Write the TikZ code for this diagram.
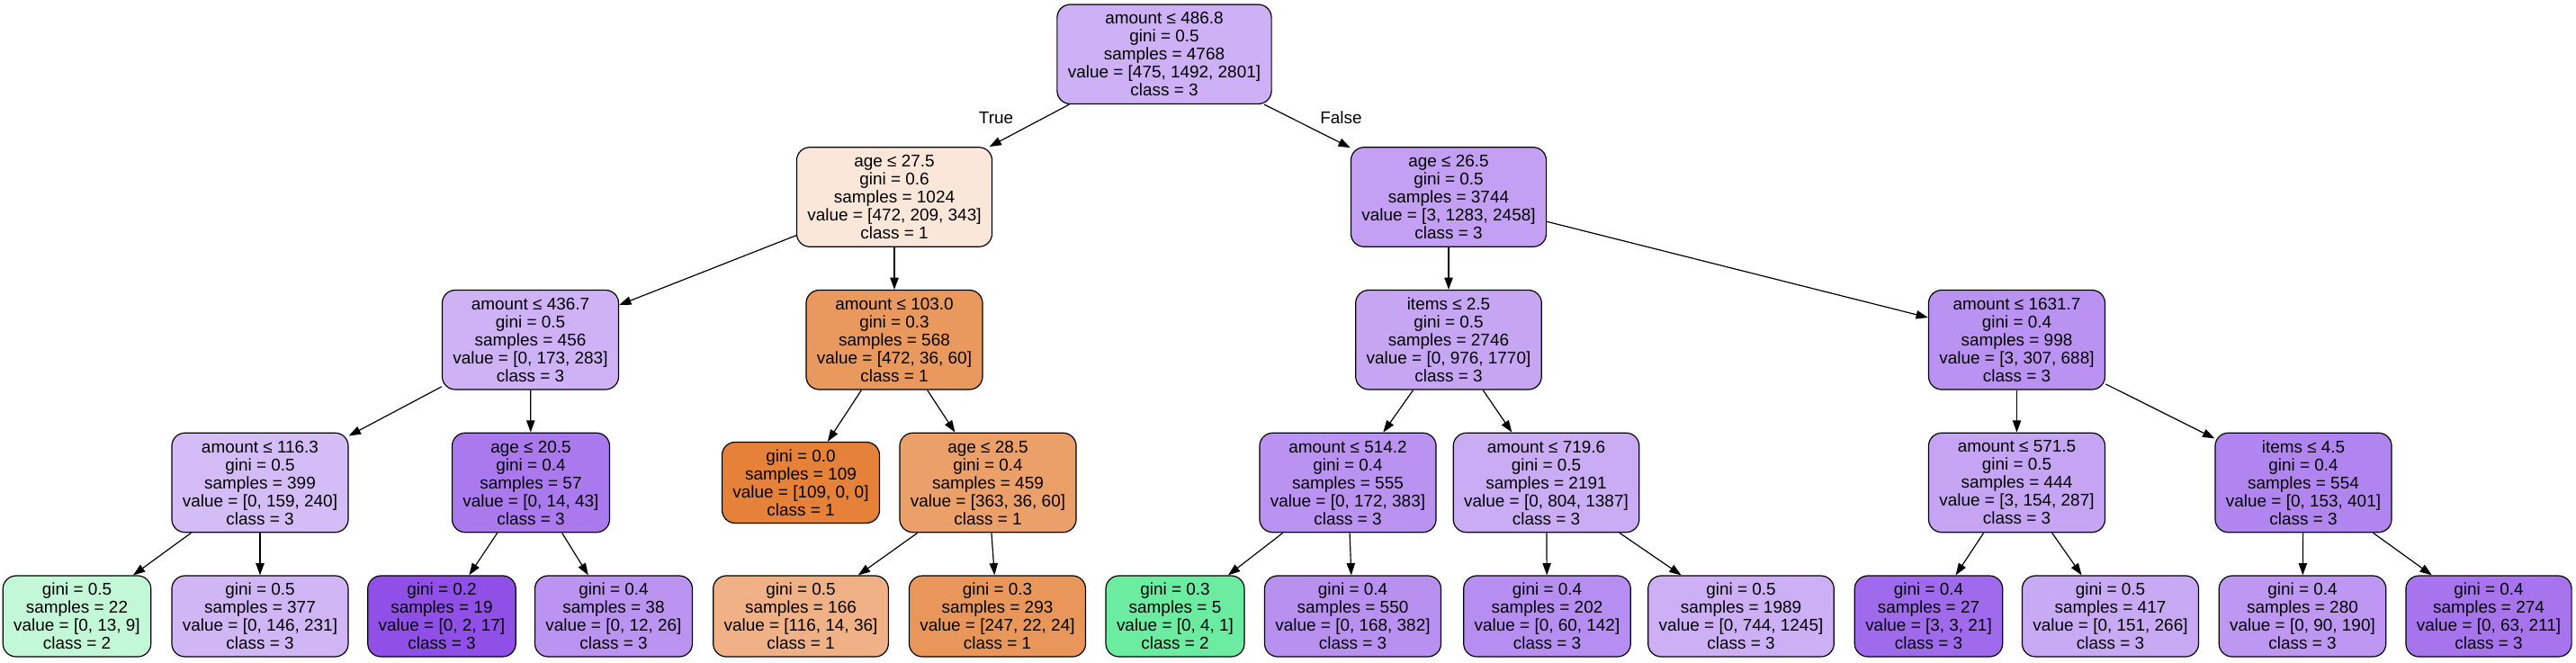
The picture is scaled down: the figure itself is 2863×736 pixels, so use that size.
\documentclass[tikz,border=0pt]{standalone}
\usepackage{fontspec}
\setmainfont{Liberation Sans}
\usetikzlibrary{arrows.meta}
\definecolor{c0}{RGB}{205,176,245}
\definecolor{c1}{RGB}{250,231,218}
\definecolor{c2}{RGB}{206,178,245}
\definecolor{c3}{RGB}{212,188,246}
\definecolor{c4}{RGB}{194,247,216}
\definecolor{c5}{RGB}{209,182,245}
\definecolor{c6}{RGB}{170,121,237}
\definecolor{c7}{RGB}{144,80,232}
\definecolor{c8}{RGB}{187,148,241}
\definecolor{c9}{RGB}{234,153,94}
\definecolor{c10}{RGB}{229,129,57}
\definecolor{c11}{RGB}{235,159,105}
\definecolor{c12}{RGB}{239,177,133}
\definecolor{c13}{RGB}{233,150,91}
\definecolor{c14}{RGB}{195,160,243}
\definecolor{c15}{RGB}{198,166,243}
\definecolor{c16}{RGB}{186,146,241}
\definecolor{c17}{RGB}{107,236,161}
\definecolor{c18}{RGB}{184,144,240}
\definecolor{c19}{RGB}{202,172,244}
\definecolor{c20}{RGB}{182,141,240}
\definecolor{c21}{RGB}{204,175,245}
\definecolor{c22}{RGB}{186,146,241}
\definecolor{c23}{RGB}{197,164,243}
\definecolor{c24}{RGB}{160,106,236}
\definecolor{c25}{RGB}{200,169,244}
\definecolor{c26}{RGB}{177,133,239}
\definecolor{c27}{RGB}{189,151,241}
\definecolor{c28}{RGB}{167,116,237}
\tikzset{
  tnode/.style={draw=black, line width=0.9pt, rounded corners=11pt, align=center,
    font=\fontsize{14.2}{15}\selectfont, inner xsep=9pt, inner ysep=0pt,
    minimum height=82.9pt},
  tleaf/.style={tnode, minimum height=67.5pt},
  edge/.style={draw=black, line width=0.9pt, -{Triangle[length=10pt,width=7pt]}},
  elabel/.style={font=\fontsize{14.2}{15}\selectfont, inner sep=0pt}
}
\begin{document}
\begin{tikzpicture}[x=0.75pt,y=-0.75pt]
\useasboundingbox (0,0) rectangle (2863,736);
% rank 0
\node[tnode, fill=c0] (n0) at (1294,60.25) {amount ≤ 486.8\\gini = 0.5\\samples = 4768\\value = [475, 1492, 2801]\\class = 3};
% rank 1
\node[tnode, fill=c1] (n1) at (994,219) {age ≤ 27.5\\gini = 0.6\\samples = 1024\\value = [472, 209, 343]\\class = 1};
\node[tnode, fill=c14] (n14) at (1610,219) {age ≤ 26.5\\gini = 0.5\\samples = 3744\\value = [3, 1283, 2458]\\class = 3};
% rank 2
\node[tnode, fill=c2] (n2) at (589.5,377.75) {amount ≤ 436.7\\gini = 0.5\\samples = 456\\value = [0, 173, 283]\\class = 3};
\node[tnode, fill=c9] (n9) at (994,377.75) {amount ≤ 103.0\\gini = 0.3\\samples = 568\\value = [472, 36, 60]\\class = 1};
\node[tnode, fill=c15] (n15) at (1610,377.75) {items ≤ 2.5\\gini = 0.5\\samples = 2746\\value = [0, 976, 1770]\\class = 3};
\node[tnode, fill=c22] (n22) at (2241.5,377.75) {amount ≤ 1631.7\\gini = 0.4\\samples = 998\\value = [3, 307, 688]\\class = 3};
% rank 3
\node[tnode, fill=c3] (n3) at (289,536.5) {amount ≤ 116.3\\gini = 0.5\\samples = 399\\value = [0, 159, 240]\\class = 3};
\node[tnode, fill=c6] (n6) at (590,536.5) {age ≤ 20.5\\gini = 0.4\\samples = 57\\value = [0, 14, 43]\\class = 3};
\node[tleaf, fill=c10] (n10) at (890,536.5) {gini = 0.0\\samples = 109\\value = [109, 0, 0]\\class = 1};
\node[tnode, fill=c11] (n11) at (1098,536.5) {age ≤ 28.5\\gini = 0.4\\samples = 459\\value = [363, 36, 60]\\class = 1};
\node[tnode, fill=c16] (n16) at (1498,536.5) {amount ≤ 514.2\\gini = 0.4\\samples = 555\\value = [0, 172, 383]\\class = 3};
\node[tnode, fill=c19] (n19) at (1718.5,536.5) {amount ≤ 719.6\\gini = 0.5\\samples = 2191\\value = [0, 804, 1387]\\class = 3};
\node[tnode, fill=c23] (n23) at (2241.5,536.5) {amount ≤ 571.5\\gini = 0.5\\samples = 444\\value = [3, 154, 287]\\class = 3};
\node[tnode, fill=c26] (n26) at (2560,536.5) {items ≤ 4.5\\gini = 0.4\\samples = 554\\value = [0, 153, 401]\\class = 3};
% rank 4
\node[tleaf, fill=c4] (n4) at (85.5,685) {gini = 0.5\\samples = 22\\value = [0, 13, 9]\\class = 2};
\node[tleaf, fill=c5] (n5) at (289,685) {gini = 0.5\\samples = 377\\value = [0, 146, 231]\\class = 3};
\node[tleaf, fill=c7] (n7) at (491,685) {gini = 0.2\\samples = 19\\value = [0, 2, 17]\\class = 3};
\node[tleaf, fill=c8] (n8) at (682,685) {gini = 0.4\\samples = 38\\value = [0, 12, 26]\\class = 3};
\node[tleaf, fill=c12] (n12) at (890,685) {gini = 0.5\\samples = 166\\value = [116, 14, 36]\\class = 1};
\node[tleaf, fill=c13] (n13) at (1108.5,685) {gini = 0.3\\samples = 293\\value = [247, 22, 24]\\class = 1};
\node[tleaf, fill=c17] (n17) at (1306,685) {gini = 0.3\\samples = 5\\value = [0, 4, 1]\\class = 2};
\node[tleaf, fill=c18] (n18) at (1503.5,685) {gini = 0.4\\samples = 550\\value = [0, 168, 382]\\class = 3};
\node[tleaf, fill=c20] (n20) at (1719.5,685) {gini = 0.4\\samples = 202\\value = [0, 60, 142]\\class = 3};
\node[tleaf, fill=c21] (n21) at (1935,685) {gini = 0.5\\samples = 1989\\value = [0, 744, 1245]\\class = 3};
\node[tleaf, fill=c24] (n24) at (2143.5,685) {gini = 0.4\\samples = 27\\value = [3, 3, 21]\\class = 3};
\node[tleaf, fill=c25] (n25) at (2345.5,685) {gini = 0.5\\samples = 417\\value = [0, 151, 266]\\class = 3};
\node[tleaf, fill=c27] (n27) at (2559,685) {gini = 0.4\\samples = 280\\value = [0, 90, 190]\\class = 3};
\node[tleaf, fill=c28] (n28) at (2766,685) {gini = 0.4\\samples = 274\\value = [0, 63, 211]\\class = 3};
% edges
\draw[edge] (n0) -- (n1);
\draw[edge] (n0) -- (n14);
\draw[edge] (n1) -- (n2);
\draw[edge] (n1) -- (n9);
\draw[edge] (n2) -- (n3);
\draw[edge] (n2) -- (n6);
\draw[edge] (n3) -- (n4);
\draw[edge] (n3) -- (n5);
\draw[edge] (n6) -- (n7);
\draw[edge] (n6) -- (n8);
\draw[edge] (n9) -- (n10);
\draw[edge] (n9) -- (n11);
\draw[edge] (n11) -- (n12);
\draw[edge] (n11) -- (n13);
\draw[edge] (n14) -- (n15);
\draw[edge] (n14) -- (n22);
\draw[edge] (n15) -- (n16);
\draw[edge] (n15) -- (n19);
\draw[edge] (n16) -- (n17);
\draw[edge] (n16) -- (n18);
\draw[edge] (n19) -- (n20);
\draw[edge] (n19) -- (n21);
\draw[edge] (n22) -- (n23);
\draw[edge] (n22) -- (n26);
\draw[edge] (n23) -- (n24);
\draw[edge] (n23) -- (n25);
\draw[edge] (n26) -- (n27);
\draw[edge] (n26) -- (n28);
% edge labels
\node[elabel] (lt) at (1107,131) {True};
\node[elabel] (lf) at (1490.5,131) {False};
\end{tikzpicture}
\end{document}
